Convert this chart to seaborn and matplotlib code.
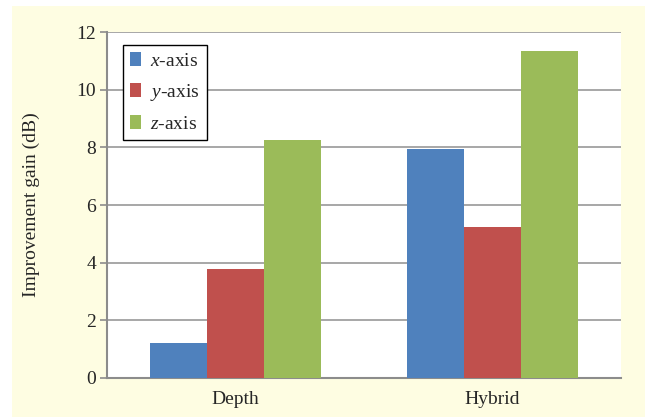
import matplotlib
matplotlib.use("Agg")
import matplotlib.pyplot as plt
import numpy as np
import pandas as pd
import seaborn as sns
from matplotlib.patches import Rectangle

categories = ["Depth", "Hybrid"]
axes_names = ["$x$-axis", "$y$-axis", "$z$-axis"]
x_gain = [1.21, 7.94]
y_gain = [3.78, 5.23]
z_gain = [8.25, 11.33]
colors = ["#4f81bd", "#c0504d", "#9bbb59"]

df = pd.DataFrame({
    "method": categories * 3,
    "axis": [axes_names[0]] * 2 + [axes_names[1]] * 2 + [axes_names[2]] * 2,
    "gain": x_gain + y_gain + z_gain,
})

sns.set_style("white")
plt.rcParams["font.family"] = ["Liberation Serif", "DejaVu Serif"]
plt.rcParams["mathtext.fontset"] = "custom"
plt.rcParams["mathtext.it"] = "Liberation Serif:italic"
plt.rcParams["mathtext.rm"] = "Liberation Serif"

fig = plt.figure(figsize=(6.45, 4.17), dpi=100)
fig.patch.set_facecolor("white")
# yellow panel behind the chart
fig.patches.append(Rectangle((12 / 645, 0.0), 1.0, 1 - 6 / 417,
                             transform=fig.transFigure, facecolor="#fefde2",
                             edgecolor="none", zorder=-10))

ax = fig.add_axes([107 / 645, 1 - 378 / 417, 514 / 645, 346 / 417])
ax.set_zorder(1)
sns.barplot(data=df, x="method", y="gain", hue="axis", palette=colors,
            width=0.665, gap=0, linewidth=0, saturation=1, ax=ax, zorder=3)

ax.set_facecolor("white")
ax.set_ylim(0, 12)
ax.set_xlim(-0.5, 1.5)
ax.set_yticks(np.arange(0, 13, 2))
ax.grid(axis="y", color="#a0a0a0", linewidth=1.3, zorder=0)
ax.set_axisbelow(True)
for s in ["top", "right"]:
    ax.spines[s].set_visible(False)
for s in ["left", "bottom"]:
    ax.spines[s].set_color("#8c8c8c")
    ax.spines[s].set_linewidth(1.5)

ax.set_xticks([-0.5, 0.5, 1.5], minor=True)
ax.tick_params(axis="x", which="major", length=0, pad=9, labelsize=14)
ax.tick_params(axis="x", which="minor", length=5, width=1.2, color="#8c8c8c", direction="out")
ax.tick_params(axis="y", length=5, width=1.2, color="#8c8c8c", direction="out", labelsize=14, pad=3, left=True)
ax.set_xlabel("")
ax.set_ylabel("Improvement gain (dB)", fontsize=14, labelpad=26)

leg = ax.legend(loc="upper left", bbox_to_anchor=(16 / 514, 1 - 13 / 346),
                frameon=True, fancybox=False, fontsize=14, handlelength=0.55,
                handleheight=0.75, handletextpad=0.5, labelspacing=0.62,
                borderpad=0.35, borderaxespad=0)
leg.get_frame().set_edgecolor("black")
leg.get_frame().set_linewidth(1.0)
leg.get_frame().set_facecolor("white")
leg.get_frame().set_alpha(1)

fig.savefig("out.png", dpi=100)
